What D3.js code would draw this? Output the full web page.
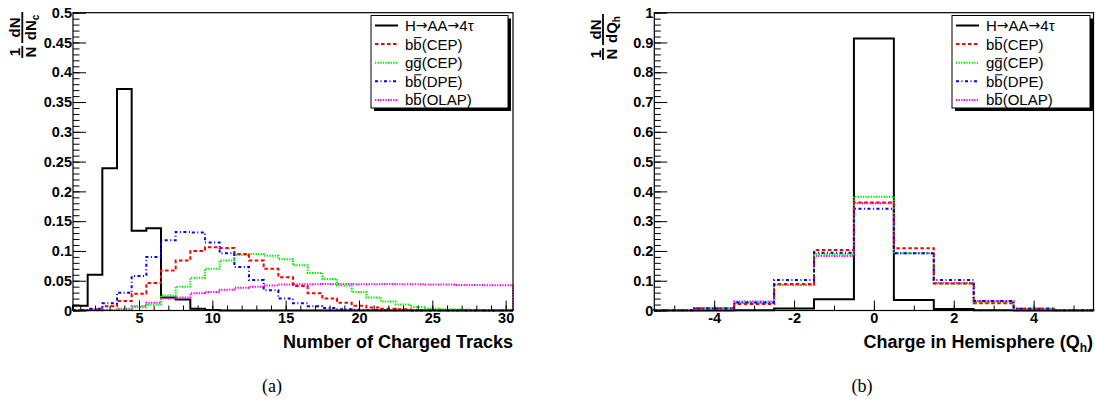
<!DOCTYPE html>
<html>
<head>
<meta charset="utf-8">
<script src="https://cdn.jsdelivr.net/npm/d3@7"></script>
<style>
  html, body { margin: 0; padding: 0; background: #fff; }
  svg { display: block; }
  .tick-lbl { font-family: "Liberation Sans", Arial, sans-serif; font-weight: bold; font-size: 14.5px; fill: #000; }
  .ax-title { font-family: "Liberation Sans", Arial, sans-serif; font-weight: bold; font-size: 18px; fill: #000; }
  .leg-text { font-family: "Liberation Sans", Arial, sans-serif; font-size: 15px; fill: #000; }
  .leg-arrow { font-family: "DejaVu Sans", sans-serif; font-size: 14px; }
  .caption { font-family: "Liberation Serif", "DejaVu Serif", serif; font-size: 18px; fill: #000; }
</style>
</head>
<body>
<div id="chart"></div>
<script>
// ---- data: normalised histogram contents ----
// (a) number of charged tracks, bins centred on 1..30
const tracksRange= [0.5, 30.5];
const tracksSignal= [0.008, 0.06, 0.239, 0.372, 0.134, 0.138, 0.022, 0.0185, 0.003, 0.0008,
  0, 0, 0, 0, 0, 0, 0, 0, 0, 0, 0, 0, 0, 0, 0, 0, 0, 0, 0, 0];
const tracksBbCEP= [0.0005, 0.002, 0.007, 0.016, 0.028, 0.046, 0.067, 0.084, 0.100, 0.106,
  0.105, 0.095, 0.084, 0.070, 0.056, 0.041, 0.029, 0.020, 0.013, 0.008,
  0.005, 0.003, 0.002, 0.001, 0.0007, 0.0005, 0.0003, 0.0003, 0.0002, 0.0002];
const tracksGgCEP= [0.0003, 0.0006, 0.001, 0.002, 0.0056, 0.010, 0.025, 0.040, 0.055, 0.070,
  0.084, 0.093, 0.095, 0.092, 0.086, 0.076, 0.063, 0.053, 0.042, 0.031,
  0.022, 0.015, 0.010, 0.006, 0.0035, 0.002, 0.0015, 0.001, 0.0008, 0.0006];
const tracksBbDPE= [0.001, 0.003, 0.012, 0.030, 0.058, 0.090, 0.118, 0.132, 0.131, 0.114,
  0.096, 0.073, 0.051, 0.034, 0.020, 0.012, 0.007, 0.004, 0.002, 0.0012,
  0.0008, 0.0005, 0.0003, 0.0002, 0.0002, 0.0001, 0.0001, 0.0001, 0.0001, 0.0001];
const tracksBbOLAP= [0.0002, 0.0005, 0.001, 0.003, 0.007, 0.013, 0.020, 0.022, 0.029, 0.031,
  0.035, 0.038, 0.040, 0.042, 0.0435, 0.044, 0.044, 0.0445, 0.0445, 0.044,
  0.044, 0.0445, 0.044, 0.044, 0.0435, 0.0435, 0.043, 0.043, 0.0425, 0.0425];

// (b) hemisphere charge, bins centred on -5..5
const chargeRange= [-5.5, 5.5];
const chargeSignal= [0, 0, 0.0005, 0.007, 0.038, 0.913, 0.035, 0.005, 0.0005, 0, 0];
const chargeBbCEP= [0.001, 0.007, 0.022, 0.089, 0.203, 0.363, 0.209, 0.091, 0.024, 0.006, 0.001];
const chargeGgCEP= [0.001, 0.007, 0.026, 0.086, 0.190, 0.382, 0.192, 0.090, 0.028, 0.006, 0.001];
const chargeBbDPE= [0.001, 0.007, 0.027, 0.102, 0.194, 0.342, 0.192, 0.102, 0.032, 0.006, 0.001];
const chargeBbOLAP= [0.001, 0.008, 0.030, 0.086, 0.183, 0.360, 0.192, 0.092, 0.032, 0.006, 0.001];

// ---- ticks ----
const tracksXMajor= [5, 10, 15, 20, 25, 30];
const tracksXMinor= d3.range(1, 31);
const tracksYMajor= [0, 0.05, 0.1, 0.15, 0.2, 0.25, 0.3, 0.35, 0.4, 0.45, 0.5];
const tracksYMinor= d3.range(0, 51).map(i => i/100);
const chargeXMajor= [-4, -2, 0, 2, 4];
const chargeXMinor= d3.range(-5, 6);
const chargeYMajor= [0, 0.1, 0.2, 0.3, 0.4, 0.5, 0.6, 0.7, 0.8, 0.9, 1];
const chargeYMinor= d3.range(0, 51).map(i => i/50);

// ---- series styles (legend order) ----
const SERIES= [
  { key: 'sig',  color: '#000000', dash: null,          width: 2 },
  { key: 'cep',  color: '#ff0000', dash: '3.5,2.5',     width: 2 },
  { key: 'gg',   color: '#00ee00', dash: '1.3,1.3',     width: 2 },
  { key: 'dpe',  color: '#0000ff', dash: '3,2.5,1,2.5', width: 2 },
  { key: 'olap', color: '#ff00ff', dash: '1.3,1.3',     width: 2 },
];
// legend labels: [text, overline?, arrow-font?]
const LEGEND_PARTS= {
  sig:  [['H', 0, 0], ['\u2192', 0, 1], ['AA', 0, 0], ['\u2192', 0, 1], ['4\u03c4', 0, 0]],
  cep:  [['b', 0, 0], ['b', 1, 0], ['(CEP)', 0, 0]],
  gg:   [['g', 0, 0], ['g', 1, 0], ['(CEP)', 0, 0]],
  dpe:  [['b', 0, 0], ['b', 1, 0], ['(DPE)', 0, 0]],
  olap: [['b', 0, 0], ['b', 1, 0], ['(OLAP)', 0, 0]],
};
// drawing order (colored on top of the signal)
const DRAW_ORDER= ['sig', 'olap', 'gg', 'cep', 'dpe'];

const W= 1095, H= 406;

const svg= d3.select('#chart').append('svg')
  .attr('width', W).attr('height', H)
  .attr('viewBox', `0 0 ${W} ${H}`);

function _fmtY(d) {
  if (d === 0) return '0';
  if (d === 1) return '1';
  return String(+d.toFixed(2));
}

function _legendLabel(t, key, baseY) {
  const parts= LEGEND_PARTS[key];
  const bars= [];
  parts.forEach(([s, over, arrow], idx) => {
    const ts= t.append('tspan').text(s);
    if (arrow) ts.attr('class', 'leg-arrow').attr('dy', -1);
    else if (idx > 0 && parts[idx-1][2]) ts.attr('dy', 1);
    if (over) bars.push({ pos: t.node().textContent.length-1, ch: s });
  });
  // overline bars above the barred letter
  for (const b of bars) {
    const r= t.node().getExtentOfChar(b.pos);
    const y= baseY-(b.ch === 'g' ? 9.5 : 12);
    svg.append('line')
      .attr('x1', r.x+0.8).attr('x2', r.x+r.width-0.3)
      .attr('y1', y).attr('y2', y)
      .attr('stroke', '#000').attr('stroke-width', 1);
  }
}

function _yTitle(cx, bottom, denomSym, sub) {
  // rotated fraction title "1/N dN/d<sym>_<sub>"; local x runs up the page
  const g= svg.append('g')
    .attr('transform', `translate(${cx},${bottom}) rotate(-90)`)
    .attr('class', 'tick-lbl')
    .style('font-size', '15px');
  g.append('line').attr('x1', 0).attr('x2', 12).attr('y1', 0).attr('y2', 0)
    .attr('stroke', '#000').attr('stroke-width', 1.8);
  g.append('text').attr('x', 6).attr('y', -2.5).attr('text-anchor', 'middle').text('1');
  g.append('text').attr('x', 6).attr('y', 13.5).attr('text-anchor', 'middle').text('N');
  g.append('line').attr('x1', 15).attr('x2', 46).attr('y1', 0).attr('y2', 0)
    .attr('stroke', '#000').attr('stroke-width', 1.8);
  g.append('text').attr('x', 30.5).attr('y', -2.5).attr('text-anchor', 'middle').text('dN');
  const dn= g.append('text').attr('x', 30.5).attr('y', 13.5).attr('text-anchor', 'middle');
  dn.append('tspan').text('d' + denomSym);
  dn.append('tspan').attr('dy', 3).style('font-size', '10px').text(sub);
}

function drawPanel(cfg) {
  const { frame, xRange, yMax, data, xMajor, xMinor, yMajor, yMinor, legend } = cfg;
  const xSc= d3.scaleLinear().domain(xRange).range([frame.x0, frame.x1]);
  const ySc= d3.scaleLinear().domain([0, yMax]).range([frame.y1, frame.y0]);
  const iW= frame.x1-frame.x0;
  const iH= frame.y1-frame.y0;

  // histograms as step outlines
  const nBins= data.sig.length;
  const bw= (xRange[1]-xRange[0])/nBins;
  const lineGen= d3.line().x(d => xSc(d.x)).y(d => ySc(d.y));
  for (const key of DRAW_ORDER) {
    const s= SERIES.find(q => q.key === key);
    const vals= data[key];
    const pts= [{ x: xRange[0], y: 0 }];
    vals.forEach((v, i) => {
      pts.push({ x: xRange[0]+i*bw, y: v });
      pts.push({ x: xRange[0]+(i+1)*bw, y: v });
    });
    pts.push({ x: xRange[1], y: 0 });
    svg.append('path')
      .attr('d', lineGen(pts))
      .attr('fill', 'none')
      .attr('stroke', s.color)
      .attr('stroke-width', s.width)
      .attr('stroke-dasharray', s.dash || null);
  }

  // axes, ticks pointing inward
  svg.append('g')
    .attr('transform', `translate(0,${frame.y1})`)
    .call(d3.axisBottom(xSc).tickValues(xMinor).tickSize(-5).tickFormat(''))
    .call(a => a.select('.domain').remove());
  svg.append('g')
    .attr('transform', `translate(0,${frame.y1})`)
    .call(d3.axisBottom(xSc).tickValues(xMajor).tickSize(-10).tickPadding(2).tickFormat(d => String(d)))
    .call(a => a.select('.domain').remove())
    .call(a => a.selectAll('text').attr('class', 'tick-lbl').attr('fill', null));

  svg.append('g')
    .attr('transform', `translate(${frame.x0},0)`)
    .call(d3.axisLeft(ySc).tickValues(yMinor).tickSize(-6.5).tickFormat(''))
    .call(a => a.select('.domain').remove());
  svg.append('g')
    .attr('transform', `translate(${frame.x0},0)`)
    .call(d3.axisLeft(ySc).tickValues(yMajor).tickSize(-13).tickPadding(1).tickFormat(_fmtY))
    .call(a => a.select('.domain').remove())
    .call(a => a.selectAll('text').attr('class', 'tick-lbl').attr('fill', null));

  svg.selectAll('.tick line').attr('stroke', '#000').attr('stroke-width', 1);

  // frame
  svg.append('rect')
    .attr('x', frame.x0).attr('y', frame.y0)
    .attr('width', iW).attr('height', iH)
    .attr('fill', 'none').attr('stroke', '#000').attr('stroke-width', 1.2);

  // legend with shadow
  const lg= legend;
  svg.append('rect')
    .attr('x', lg.x0+3).attr('y', lg.y0+3)
    .attr('width', lg.x1-lg.x0).attr('height', lg.y1-lg.y0)
    .attr('fill', '#000');
  svg.append('rect')
    .attr('x', lg.x0).attr('y', lg.y0)
    .attr('width', lg.x1-lg.x0).attr('height', lg.y1-lg.y0)
    .attr('fill', '#fff').attr('stroke', '#000').attr('stroke-width', 1);
  SERIES.forEach((s, i) => {
    const ly= lg.y0+10+i*18.6;
    svg.append('line')
      .attr('x1', lg.x0+4).attr('x2', lg.x0+27)
      .attr('y1', ly).attr('y2', ly)
      .attr('stroke', s.color).attr('stroke-width', s.width)
      .attr('stroke-dasharray', s.dash || null);
    const t= svg.append('text')
      .attr('x', lg.x0+34).attr('y', ly+5.5)
      .attr('class', 'leg-text');
    _legendLabel(t, s.key, ly+5.5);
  });
}

drawPanel({
  frame: { x0: 73, x1: 513, y0: 12.7, y1: 310.5 },
  xRange: tracksRange, yMax: 0.5,
  data: { sig: tracksSignal, cep: tracksBbCEP, gg: tracksGgCEP, dpe: tracksBbDPE, olap: tracksBbOLAP },
  xMajor: tracksXMajor, xMinor: tracksXMinor, yMajor: tracksYMajor, yMinor: tracksYMinor,
  legend: { x0: 371, x1: 508, y0: 15.5, y1: 108 },
});

drawPanel({
  frame: { x0: 654.3, x1: 1093.5, y0: 12.7, y1: 310.5 },
  xRange: chargeRange, yMax: 1,
  data: { sig: chargeSignal, cep: chargeBbCEP, gg: chargeGgCEP, dpe: chargeBbDPE, olap: chargeBbOLAP },
  xMajor: chargeXMajor, xMinor: chargeXMinor, yMajor: chargeYMajor, yMinor: chargeYMinor,
  legend: { x0: 952, x1: 1090, y0: 15.5, y1: 108 },
});

// axis titles
svg.append('text')
  .attr('x', 513).attr('y', 348)
  .attr('text-anchor', 'end')
  .attr('class', 'ax-title')
  .text('Number of Charged Tracks');

const qt= svg.append('text')
  .attr('x', 1093).attr('y', 348)
  .attr('text-anchor', 'end')
  .attr('class', 'ax-title');
qt.append('tspan').text('Charge in Hemisphere (Q');
qt.append('tspan').attr('dy', 4).style('font-size', '12px').text('h');
qt.append('tspan').attr('dy', -4).text(')');

_yTitle(22.3, 58, 'N', 'c');
_yTitle(603, 60, 'Q', 'h');

// panel captions
svg.append('text').attr('x', 272).attr('y', 392).attr('text-anchor', 'middle')
  .attr('class', 'caption').text('(a)');
svg.append('text').attr('x', 862).attr('y', 392).attr('text-anchor', 'middle')
  .attr('class', 'caption').text('(b)');
</script>
</body>
</html>
